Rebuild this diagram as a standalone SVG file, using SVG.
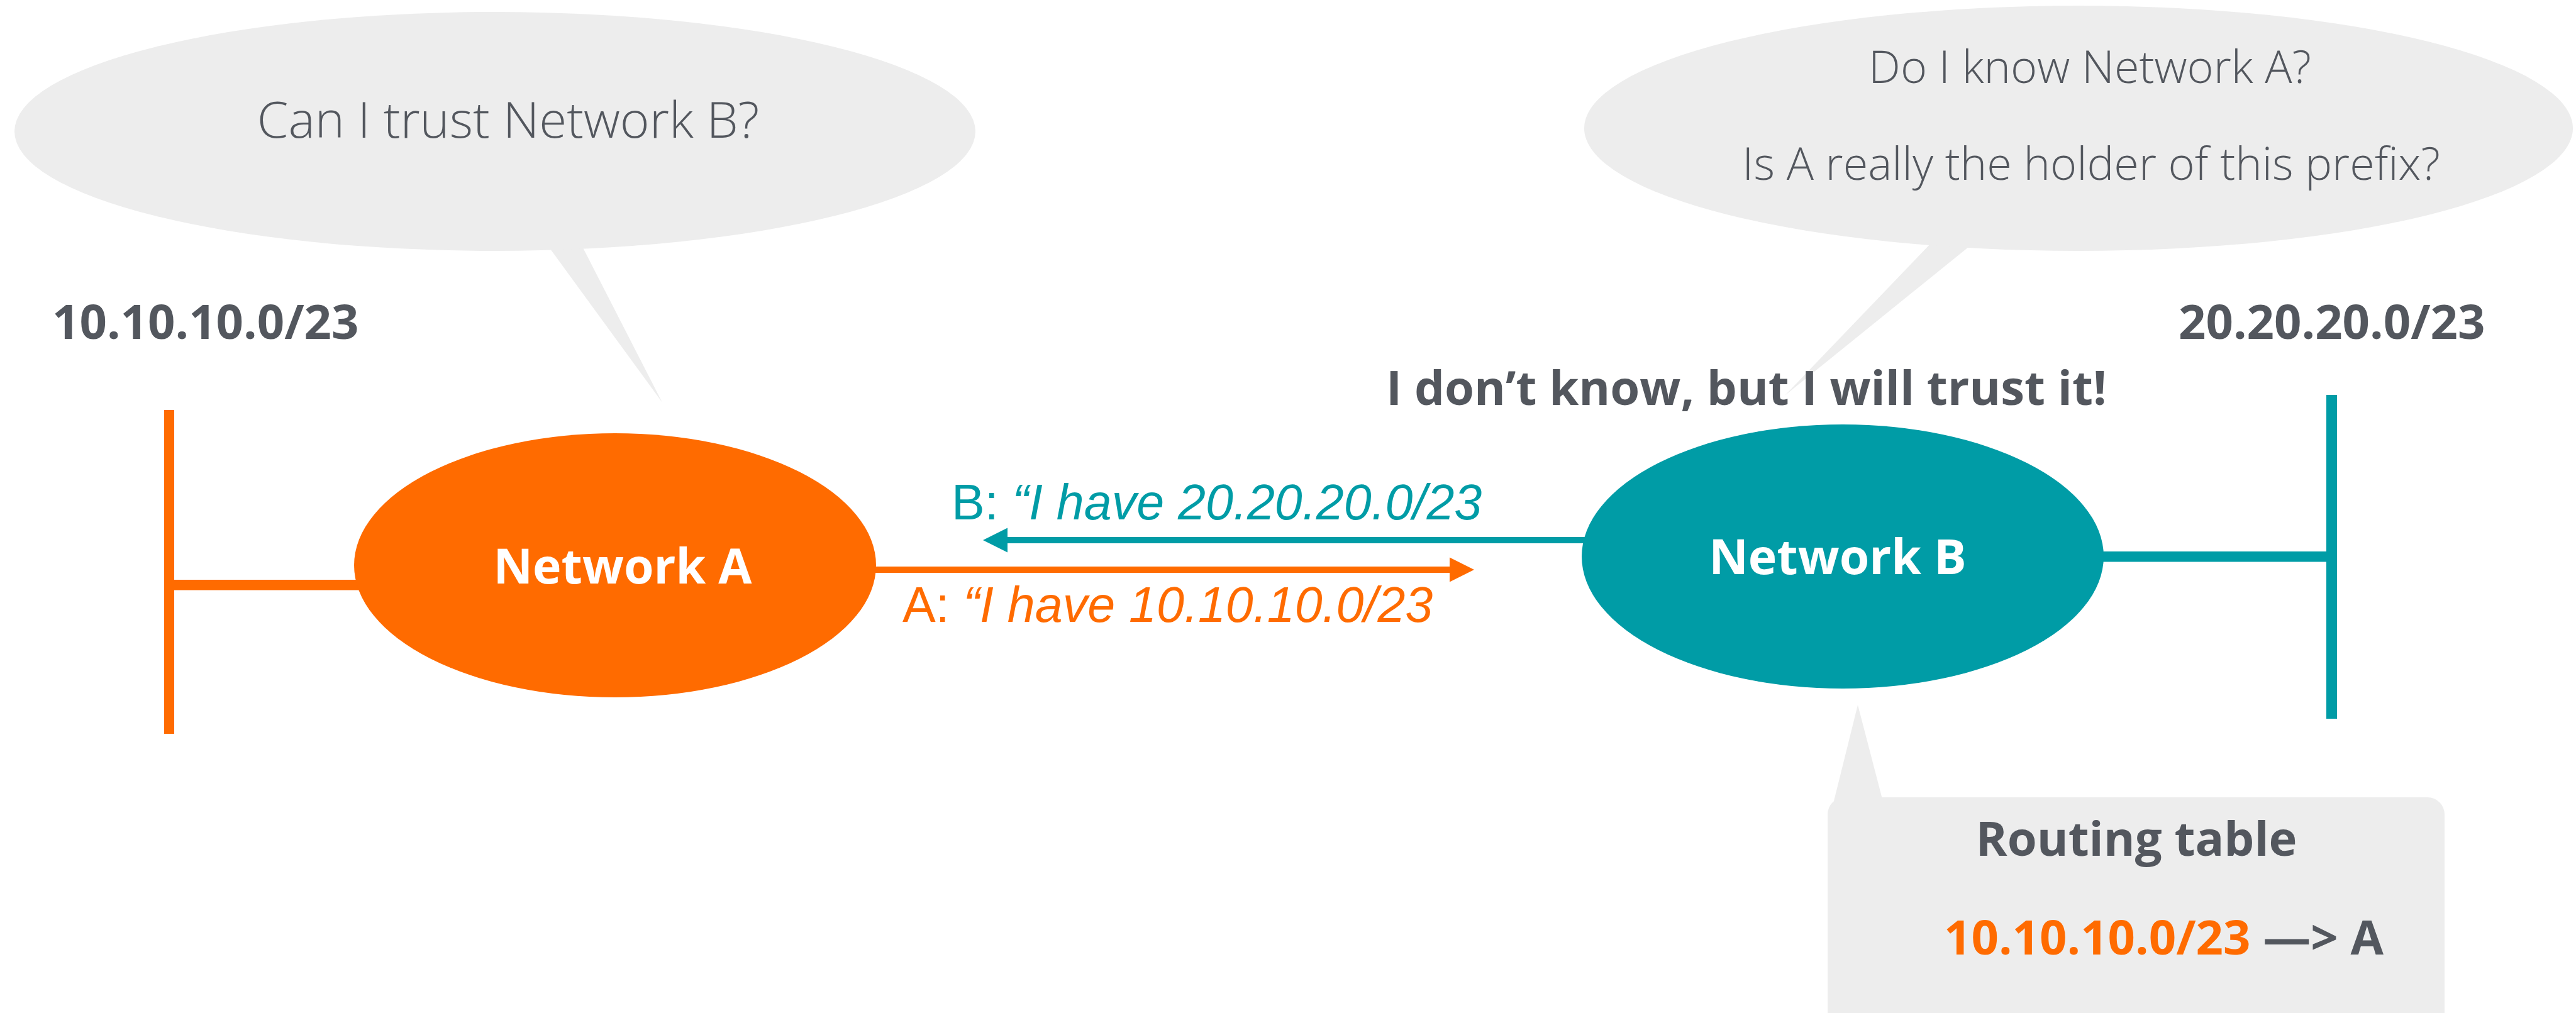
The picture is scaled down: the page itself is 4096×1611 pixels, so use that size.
<svg xmlns="http://www.w3.org/2000/svg" width="4096" height="1611" viewBox="0 0 4096 1611">
  <style>
    .bubble { fill: #ededed; }
    .think { font-family: "Open Sans", "Liberation Sans", sans-serif; font-weight: 300; fill: #53575e; text-anchor: middle; }
    .bold { font-family: "Open Sans", "Liberation Sans", sans-serif; font-weight: 700; fill: #53575e; }
    .node-label { font-family: "Open Sans", "Liberation Sans", sans-serif; font-weight: 700; font-size: 77px; fill: #ffffff; text-anchor: middle; }
    .msg { font-family: "Liberation Sans", Arial, sans-serif; font-size: 79px; }
    .orange { fill: #ff6b00; }
    .teal { fill: #009ca6; }
  </style>
  <rect width="4096" height="1611" fill="#ffffff"/>

  <g id="bubble-a">
    <polygon class="bubble" points="848,359 909,359 1053,640"/>
    <ellipse class="bubble" cx="787" cy="209" rx="764" ry="190"/>
    <text class="think" x="808" y="219" font-size="80">Can I trust Network B?</text>
  </g>

  <g id="bubble-b">
    <polygon class="bubble" points="3097,359 3172,359 2838,629"/>
    <ellipse class="bubble" cx="3305" cy="204" rx="786" ry="195"/>
    <text class="think" x="3323" y="132" font-size="72">Do I know Network A?</text>
    <text class="think" x="3325" y="286" font-size="72">Is A really the holder of this prefix?</text>
  </g>

  <g id="routing-table">
    <polygon class="bubble" points="2912,1290 2954,1121 2998,1290"/>
    <rect class="bubble" x="2906" y="1268" width="981" height="420" rx="27" ry="27"/>
    <text class="bold" x="3397" y="1361" font-size="76" text-anchor="middle">Routing table</text>
    <text class="bold" x="3091" y="1518" font-size="76"><tspan fill="#ff6b00">10.10.10.0/23</tspan> —&gt; A</text>
  </g>

  <g id="prefix-a">
    <text class="bold" x="83" y="539" font-size="76">10.10.10.0/23</text>
  </g>
  <g id="prefix-b">
    <text class="bold" x="3464" y="539" font-size="76">20.20.20.0/23</text>
  </g>
  <g id="trust-label">
    <text class="bold" x="2204" y="644" font-size="76">I don’t know, but I will trust it!</text>
  </g>

  <g id="lan-a">
    <rect class="orange" x="261" y="652" width="16" height="515"/>
    <rect class="orange" x="269" y="922" width="310" height="16.5"/>
  </g>
  <g id="lan-b">
    <rect class="teal" x="3699" y="628" width="17" height="515"/>
    <rect class="teal" x="3340" y="877" width="362" height="16.5"/>
  </g>

  <g id="connectors">
    <rect class="orange" x="1385" y="901" width="922" height="10"/>
    <polygon class="orange" points="2305,886.5 2344,906 2305,925.5"/>
    <rect class="teal" x="1600" y="854" width="928" height="10"/>
    <polygon class="teal" points="1602,839.5 1563,859 1602,878.5"/>
    <text class="msg" x="1513" y="826" fill="#009ca6">B: <tspan font-style="italic">“I have 20.20.20.0/23</tspan></text>
    <text class="msg" x="1435" y="989" fill="#ff6b00" font-size="80">A: <tspan font-style="italic">“I have 10.10.10.0/23</tspan></text>
  </g>

  <g id="network-a">
    <ellipse class="orange" cx="978" cy="899" rx="415" ry="210"/>
    <text class="node-label" x="990" y="928">Network A</text>
  </g>
  <g id="network-b">
    <ellipse class="teal" cx="2930" cy="885" rx="415" ry="210"/>
    <text class="node-label" x="2922" y="913">Network B</text>
  </g>
</svg>
